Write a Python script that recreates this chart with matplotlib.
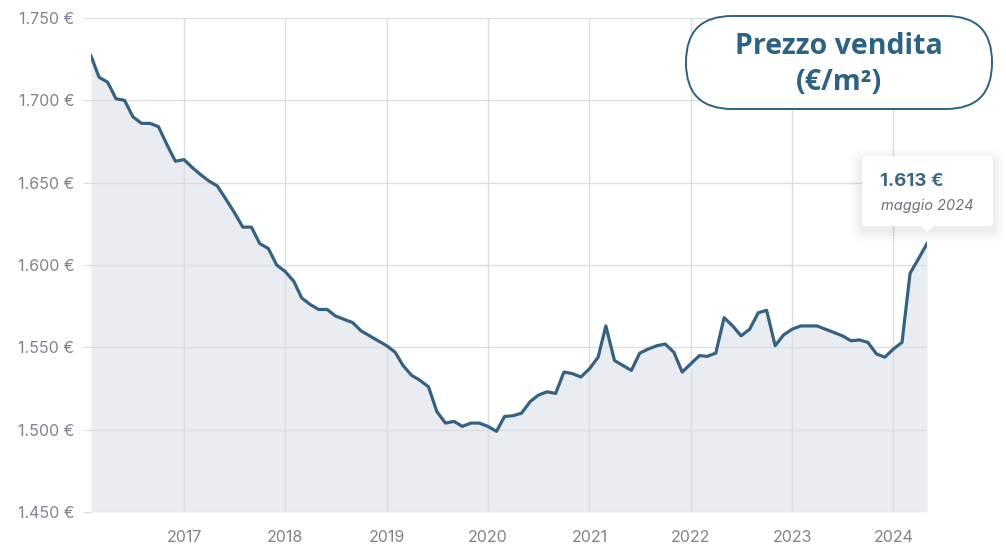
#!/usr/bin/env python3
"""Prezzo vendita (EUR/m2) monthly trend, Feb 2016 - May 2024."""

import matplotlib

matplotlib.use("Agg")
import matplotlib.dates as mdates
import matplotlib.pyplot as plt
import matplotlib.ticker as mticker
import pandas as pd
from matplotlib.patches import FancyBboxPatch, Polygon

# monthly asking price, first value = February 2016
prices = [
    1727, 1714, 1711, 1701, 1700, 1690, 1686, 1686, 1684, 1673, 1663,
    1664, 1659, 1655, 1651, 1648, 1640, 1632, 1623, 1623, 1613, 1610, 1600,
    1596, 1590, 1580, 1576, 1573, 1573, 1569, 1567, 1565, 1560, 1557, 1554,
    1551, 1547, 1539, 1533, 1530, 1526, 1511, 1504, 1505, 1502, 1504, 1504,
    1502, 1499, 1508, 1508.5, 1510, 1517, 1521, 1523, 1522, 1535, 1534, 1532,
    1537, 1544, 1563, 1542, 1539, 1536, 1546.5, 1549, 1551, 1552, 1547, 1535,
    1540, 1545, 1544.5, 1546.5, 1568, 1563, 1557, 1561, 1571, 1572.5, 1551, 1557.5,
    1561, 1563, 1563, 1563, 1561, 1559, 1557, 1554, 1554.5, 1553, 1546, 1544,
    1549, 1553, 1595, 1604, 1613,
]
start_month = "2016-02-01"
y_ticks = [1450, 1500, 1550, 1600, 1650, 1700, 1750]
year_ticks = [2017, 2018, 2019, 2020, 2021, 2022, 2023, 2024]
title_lines = ["Prezzo vendita", "(€/m²)"]
tooltip_value = "1.613 €"
tooltip_date = "maggio 2024"

LINE = "#386180"
FILL = "#e9edf1"
GRID = "#dcdde3"
TICK = "#80838d"

months = pd.date_range(start_month, periods=len(prices), freq="MS")

fig = plt.figure(figsize=(10.06, 5.54), dpi=100)
ax = fig.add_axes([91 / 1006, 42 / 554, 836 / 1006, 494 / 554])

ax.fill_between(months, prices, y_ticks[0], color=FILL, lw=0, zorder=1)
ax.plot(months, prices, color=LINE, lw=2.3, solid_joinstyle="round", zorder=3)

ax.set_xlim(months[0], months[-1])
ax.set_ylim(y_ticks[0], y_ticks[-1])
ax.set_yticks(y_ticks)
ax.yaxis.set_major_formatter(
    mticker.FuncFormatter(lambda v, _: f"{v:,.0f} €".replace(",", "."))
)
ax.set_xticks([pd.Timestamp(f"{y}-01-01") for y in year_ticks])
ax.xaxis.set_major_formatter(mdates.DateFormatter("%Y"))

ax.grid(True, color=GRID, lw=1.0, zorder=2)
ax.set_axisbelow(False)
for spine in ax.spines.values():
    spine.set_visible(False)
ax.tick_params(axis="y", length=6, color=GRID, colors=TICK, labelsize=11.5, pad=6)
ax.tick_params(axis="x", length=0, colors=TICK, labelsize=11.5, pad=13)
for lab in ax.get_yticklabels() + ax.get_xticklabels():
    lab.set_fontfamily("Inter")
    lab.set_color(TICK)

# overlay in pixel coordinates for the callouts
ov = fig.add_axes([0, 0, 1, 1], zorder=10)
ov.set_xlim(0, 1006)
ov.set_ylim(554, 0)
ov.axis("off")

pill = FancyBboxPatch((686, 16), 306, 93, boxstyle="round,pad=0,rounding_size=46",
                      fc="white", ec="#2f6180", lw=1.4)
ov.add_patch(pill)
for line, ypos in zip(title_lines, [47, 82]):
    ov.text(839, ypos, line, ha="center", va="center", fontsize=20.5,
            fontweight="bold", color="#2f6180", family="Open Sans")

# tooltip with a soft shadow
for grow, alpha in [(12, 0.012), (9, 0.015), (6, 0.02), (3, 0.025)]:
    ov.add_patch(FancyBboxPatch((862 - grow, 156 - grow + 4), 131 + 2 * grow, 70 + 2 * grow,
                                boxstyle=f"round,pad=0,rounding_size={4 + grow}",
                                fc="black", ec="none", alpha=alpha))
ov.add_patch(FancyBboxPatch((862, 156), 131, 70, boxstyle="round,pad=0,rounding_size=4",
                            fc="white", ec="none"))
ov.add_patch(Polygon([(920, 225.5), (927, 232.5), (934, 225.5)], closed=True,
                     fc="white", ec="none"))
ov.text(880, 182, tooltip_value, ha="left", va="center", fontsize=13.5,
        fontweight="bold", color="#3d6680", family="Inter")
ov.text(881, 206, tooltip_date, ha="left", va="center", fontsize=10.5,
        style="italic", color="#6e717a", family="Inter")

fig.savefig("out.png", dpi=100)
